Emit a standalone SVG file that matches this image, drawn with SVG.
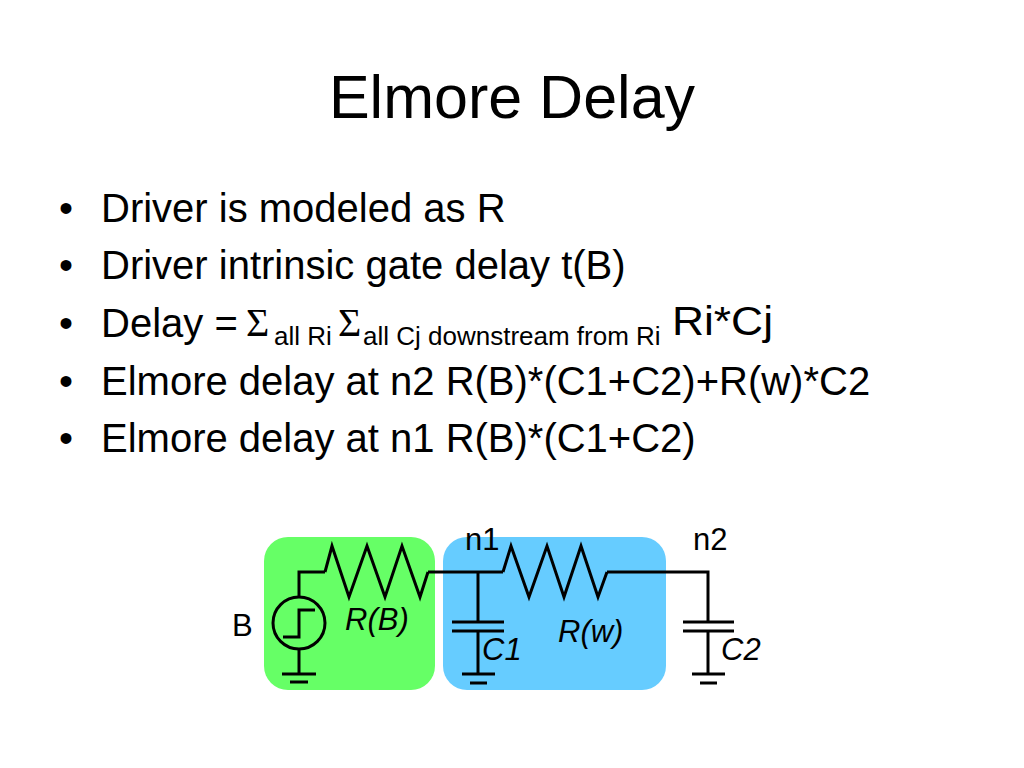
<svg xmlns="http://www.w3.org/2000/svg" width="1024" height="768" viewBox="0 0 1024 768">
<style>
text{font-family:"Liberation Sans",Arial,sans-serif;fill:#000}
.title{font-size:61px}
.b{font-size:40px}
.sub{font-size:26px}
.sig{font-family:"Liberation Serif","Times New Roman",serif;font-size:40px}
.lbl{font-size:31px}
.it{font-style:italic}
.w{fill:none;stroke:#000;stroke-width:3;stroke-linejoin:miter;stroke-linecap:butt}
</style>
<rect width="1024" height="768" fill="#fff"/>
<text class="title" x="512" y="118" text-anchor="middle">Elmore Delay</text>
<g id="bullets">
<text class="b" x="59" y="222">•</text><text class="b" x="101" y="222">Driver is modeled as R</text>
<text class="b" x="59" y="279">•</text><text class="b" x="101" y="279">Driver intrinsic gate delay t(B)</text>
<text class="b" x="59" y="337">•</text><text class="b" x="101" y="337">Delay =</text>
<text class="sig" x="246" y="336">Σ</text><text class="sub" x="274" y="345">all Ri</text>
<text class="sig" x="338" y="336">Σ</text><text class="sub" x="363" y="345">all Cj downstream from Ri</text>
<text class="b" x="672" y="335" textLength="101" lengthAdjust="spacingAndGlyphs">Ri*Cj</text>
<text class="b" x="59" y="395">•</text><text class="b" x="101" y="395">Elmore delay at n2 R(B)*(C1+C2)+R(w)*C2</text>
<text class="b" x="59" y="452">•</text><text class="b" x="101" y="452">Elmore delay at n1 R(B)*(C1+C2)</text>
</g>
<g id="driver-box"><rect x="264" y="537" width="171" height="153" rx="24" fill="#66FF66"/></g>
<g id="wire-box"><rect x="443" y="537" width="223" height="153" rx="24" fill="#66CCFF"/></g>
<g id="source">
<circle cx="299" cy="623" r="26" class="w"/>
<polyline class="w" points="283,637 299,637 299,610 315,610"/>
<line class="w" x1="299" y1="649" x2="299" y2="674"/>
<line class="w" x1="282" y1="674" x2="316" y2="674"/>
<line class="w" x1="290" y1="682" x2="308" y2="682"/>
<text class="lbl" x="232" y="636">B</text>
</g>
<g id="RB">
<polyline class="w" points="325,572 332,546 349,597 367,546 385,597 402,546 420,597 428,572"/>
<text class="lbl it" x="345" y="630">R(B)</text>
</g>
<g id="C1">
<line class="w" x1="452" y1="622" x2="504" y2="622"/>
<line class="w" x1="452" y1="631" x2="504" y2="631"/>
<line class="w" x1="478" y1="631" x2="478" y2="674"/>
<line class="w" x1="462" y1="674" x2="495" y2="674"/>
<line class="w" x1="470" y1="683" x2="487" y2="683"/>
<text class="lbl it" x="482" y="660">C1</text>
<text class="lbl" x="465" y="550">n1</text>
</g>
<g id="Rw">
<polyline class="w" points="503,572 511,546 529,597 547,546 564,597 581,546 598,597 607,572"/>
<text class="lbl it" x="558" y="642">R(w)</text>
</g>
<g id="C2">
<line class="w" x1="683" y1="622" x2="734" y2="622"/>
<line class="w" x1="683" y1="631" x2="734" y2="631"/>
<line class="w" x1="708" y1="631" x2="708" y2="674"/>
<line class="w" x1="692" y1="674" x2="725" y2="674"/>
<line class="w" x1="700" y1="683" x2="717" y2="683"/>
<text class="lbl it" x="721" y="660">C2</text>
<text class="lbl" x="693" y="550">n2</text>
</g>
<g id="connectors">
<polyline class="w" points="299,597 299,572 325,572"/>
<line class="w" x1="428" y1="572" x2="503" y2="572"/>
<line class="w" x1="478" y1="572" x2="478" y2="622"/>
<polyline class="w" points="607,572 708,572 708,622"/>
</g>
</svg>
